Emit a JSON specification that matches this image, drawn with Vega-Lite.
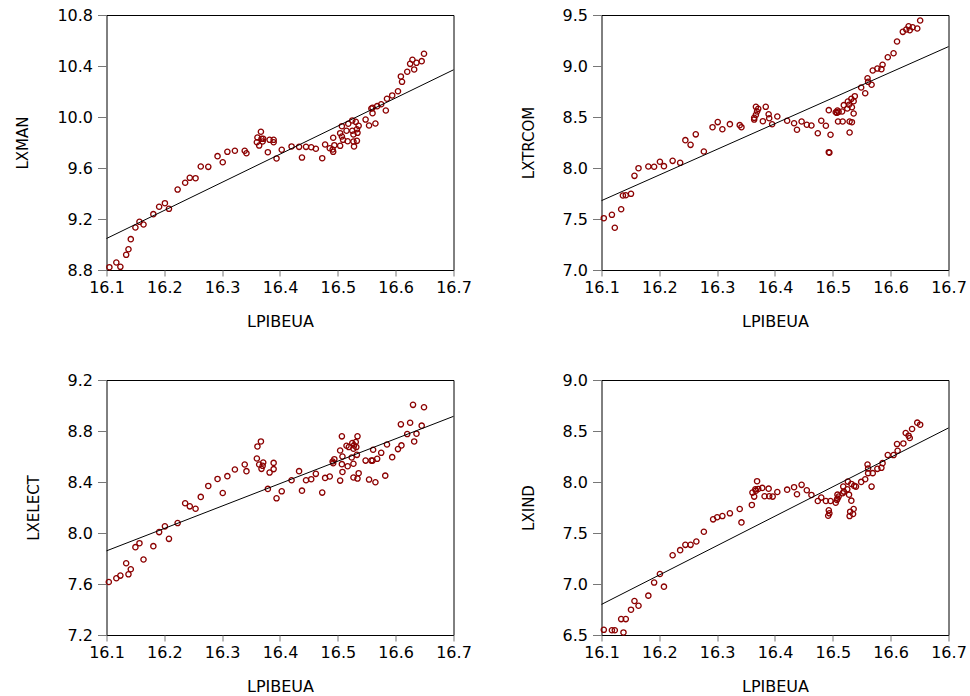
{
  "$schema": "https://vega.github.io/schema/vega-lite/v6.json",
  "background": "white",
  "padding": {"left": 14.5, "top": 6, "right": 5, "bottom": 2},
  "columns": 2,
  "bounds": "flush",
  "spacing": {"row": 110, "column": 148},
  "datasets": {
    "man": [
      {"x":16.105,"y":8.822},{"x":16.117,"y":8.859},{"x":16.124,"y":8.825},{"x":16.134,"y":8.919},{"x":16.138,"y":8.963},{"x":16.142,"y":9.042},{"x":16.150,"y":9.133},{"x":16.157,"y":9.178},{"x":16.164,"y":9.157},{"x":16.181,"y":9.238},{"x":16.191,"y":9.296},{"x":16.201,"y":9.324},{"x":16.208,"y":9.280},{"x":16.223,"y":9.431},{"x":16.236,"y":9.484},{"x":16.244,"y":9.523},{"x":16.254,"y":9.520},{"x":16.263,"y":9.612},{"x":16.276,"y":9.609},{"x":16.292,"y":9.693},{"x":16.301,"y":9.645},{"x":16.309,"y":9.727},{"x":16.322,"y":9.735},{"x":16.339,"y":9.735},{"x":16.342,"y":9.716},{"x":16.361,"y":9.839},{"x":16.360,"y":9.802},{"x":16.364,"y":9.776},{"x":16.367,"y":9.884},{"x":16.368,"y":9.829},{"x":16.370,"y":9.808},{"x":16.371,"y":9.829},{"x":16.379,"y":9.724},{"x":16.382,"y":9.821},{"x":16.389,"y":9.821},{"x":16.389,"y":9.802},{"x":16.394,"y":9.675},{"x":16.403,"y":9.743},{"x":16.420,"y":9.769},{"x":16.433,"y":9.766},{"x":16.438,"y":9.682},{"x":16.445,"y":9.766},{"x":16.454,"y":9.763},{"x":16.462,"y":9.751},{"x":16.473,"y":9.677},{"x":16.478,"y":9.784},{"x":16.486,"y":9.755},{"x":16.492,"y":9.727},{"x":16.491,"y":9.745},{"x":16.494,"y":9.779},{"x":16.504,"y":9.774},{"x":16.492,"y":9.837},{"x":16.504,"y":9.873},{"x":16.507,"y":9.847},{"x":16.509,"y":9.821},{"x":16.507,"y":9.928},{"x":16.515,"y":9.892},{"x":16.517,"y":9.810},{"x":16.518,"y":9.947},{"x":16.525,"y":9.973},{"x":16.525,"y":9.892},{"x":16.527,"y":9.863},{"x":16.527,"y":9.808},{"x":16.528,"y":9.769},{"x":16.531,"y":9.962},{"x":16.533,"y":9.904},{"x":16.534,"y":9.876},{"x":16.533,"y":9.813},{"x":16.536,"y":9.931},{"x":16.548,"y":9.980},{"x":16.554,"y":9.933},{"x":16.560,"y":10.030},{"x":16.558,"y":10.067},{"x":16.565,"y":9.949},{"x":16.560,"y":10.072},{"x":16.568,"y":10.085},{"x":16.575,"y":10.100},{"x":16.583,"y":10.051},{"x":16.585,"y":10.143},{"x":16.594,"y":10.169},{"x":16.604,"y":10.202},{"x":16.611,"y":10.276},{"x":16.609,"y":10.318},{"x":16.620,"y":10.355},{"x":16.632,"y":10.373},{"x":16.625,"y":10.417},{"x":16.629,"y":10.449},{"x":16.636,"y":10.425},{"x":16.645,"y":10.438},{"x":16.649,"y":10.496}
    ],
    "trcom": [
      {"x":16.104,"y":7.508},{"x":16.118,"y":7.541},{"x":16.123,"y":7.414},{"x":16.134,"y":7.596},{"x":16.137,"y":7.730},{"x":16.142,"y":7.733},{"x":16.151,"y":7.747},{"x":16.157,"y":7.923},{"x":16.164,"y":7.998},{"x":16.181,"y":8.015},{"x":16.191,"y":8.012},{"x":16.201,"y":8.061},{"x":16.208,"y":8.018},{"x":16.223,"y":8.070},{"x":16.236,"y":8.051},{"x":16.245,"y":8.273},{"x":16.254,"y":8.227},{"x":16.263,"y":8.33},{"x":16.277,"y":8.162},{"x":16.292,"y":8.40},{"x":16.301,"y":8.45},{"x":16.309,"y":8.38},{"x":16.322,"y":8.43},{"x":16.339,"y":8.42},{"x":16.342,"y":8.40},
      {"x":16.364,"y":8.475},{"x":16.364,"y":8.492},{"x":16.367,"y":8.521},{"x":16.369,"y":8.554},{"x":16.367,"y":8.600},{"x":16.371,"y":8.580},{"x":16.384,"y":8.600},{"x":16.389,"y":8.527},{"x":16.390,"y":8.488},{"x":16.379,"y":8.459},{"x":16.395,"y":8.429},{"x":16.404,"y":8.505},{"x":16.421,"y":8.463},{"x":16.433,"y":8.439},{"x":16.438,"y":8.375},{"x":16.446,"y":8.456},{"x":16.455,"y":8.424},{"x":16.463,"y":8.417},{"x":16.474,"y":8.341},{"x":16.480,"y":8.463},{"x":16.488,"y":8.414},{"x":16.496,"y":8.326},{"x":16.493,"y":8.155},{"x":16.494,"y":8.150},{"x":16.493,"y":8.567},{"x":16.505,"y":8.547},{"x":16.507,"y":8.541},{"x":16.508,"y":8.564},{"x":16.510,"y":8.551},{"x":16.509,"y":8.456},{"x":16.517,"y":8.456},{"x":16.516,"y":8.554},{"x":16.519,"y":8.616},{"x":16.526,"y":8.652},{"x":16.525,"y":8.583},{"x":16.528,"y":8.620},{"x":16.529,"y":8.456},{"x":16.533,"y":8.449},{"x":16.529,"y":8.348},{"x":16.532,"y":8.678},{"x":16.536,"y":8.655},{"x":16.533,"y":8.596},{"x":16.536,"y":8.534},{"x":16.538,"y":8.704},{"x":16.549,"y":8.789},{"x":16.556,"y":8.733},{"x":16.560,"y":8.880},{"x":16.561,"y":8.845},{"x":16.567,"y":8.816},{"x":16.569,"y":8.956},{"x":16.577,"y":8.975},{"x":16.584,"y":8.969},{"x":16.586,"y":9.012},{"x":16.595,"y":9.086},{"x":16.605,"y":9.125},{"x":16.611,"y":9.240},{"x":16.621,"y":9.335},{"x":16.627,"y":9.358},{"x":16.631,"y":9.390},{"x":16.633,"y":9.351},{"x":16.638,"y":9.380},{"x":16.646,"y":9.368},{"x":16.651,"y":9.446}
    ],
    "elect": [
      {"x":16.104,"y":7.616},{"x":16.117,"y":7.645},{"x":16.124,"y":7.666},{"x":16.134,"y":7.763},{"x":16.138,"y":7.676},{"x":16.142,"y":7.716},{"x":16.150,"y":7.889},{"x":16.157,"y":7.920},{"x":16.164,"y":7.792},{"x":16.181,"y":7.897},{"x":16.191,"y":8.007},{"x":16.201,"y":8.052},{"x":16.208,"y":7.954},{"x":16.223,"y":8.078},{"x":16.236,"y":8.233},{"x":16.244,"y":8.209},{"x":16.254,"y":8.190},{"x":16.263,"y":8.283},{"x":16.276,"y":8.369},{"x":16.292,"y":8.424},{"x":16.301,"y":8.314},{"x":16.309,"y":8.446},{"x":16.322,"y":8.498},{"x":16.339,"y":8.537},{"x":16.342,"y":8.485},{"x":16.361,"y":8.679},{"x":16.360,"y":8.584},{"x":16.364,"y":8.537},{"x":16.367,"y":8.718},{"x":16.368,"y":8.503},{"x":16.370,"y":8.527},{"x":16.371,"y":8.553},{"x":16.379,"y":8.346},{"x":16.382,"y":8.474},
      {"x":16.389,"y":8.550},{"x":16.389,"y":8.501},{"x":16.394,"y":8.272},{"x":16.403,"y":8.327},{"x":16.420,"y":8.414},{"x":16.433,"y":8.485},{"x":16.438,"y":8.332},{"x":16.445,"y":8.414},{"x":16.454,"y":8.422},{"x":16.462,"y":8.464},{"x":16.473,"y":8.317},{"x":16.478,"y":8.432},{"x":16.486,"y":8.443},{"x":16.492,"y":8.548},{"x":16.494,"y":8.579},{"x":16.491,"y":8.561},{"x":16.504,"y":8.647},{"x":16.507,"y":8.758},{"x":16.508,"y":8.600},{"x":16.507,"y":8.540},{"x":16.508,"y":8.479},{"x":16.504,"y":8.411},{"x":16.515,"y":8.684},{"x":16.519,"y":8.674},{"x":16.517,"y":8.524},{"x":16.524,"y":8.592},{"x":16.525,"y":8.705},{"x":16.527,"y":8.661},{"x":16.527,"y":8.543},{"x":16.527,"y":8.435},{"x":16.528,"y":8.687},{"x":16.531,"y":8.713},{"x":16.532,"y":8.674},{"x":16.533,"y":8.613},{"x":16.534,"y":8.758},{"x":16.534,"y":8.427},{"x":16.536,"y":8.469},{"x":16.548,"y":8.568},{"x":16.554,"y":8.419},{"x":16.558,"y":8.568},{"x":16.561,"y":8.653},{"x":16.560,"y":8.568},{"x":16.565,"y":8.398},{"x":16.568,"y":8.582},{"x":16.575,"y":8.629},{"x":16.582,"y":8.450},{"x":16.585,"y":8.694},{"x":16.594,"y":8.595},{"x":16.604,"y":8.658},{"x":16.610,"y":8.687},{"x":16.609,"y":8.852},{"x":16.620,"y":8.776},{"x":16.625,"y":8.865},{"x":16.632,"y":8.718},{"x":16.630,"y":9.005},{"x":16.636,"y":8.779},{"x":16.645,"y":8.842},{"x":16.649,"y":8.986}
    ],
    "ind": [
      {"x":16.104,"y":6.551},{"x":16.118,"y":6.547},{"x":16.123,"y":6.547},{"x":16.138,"y":6.525},{"x":16.134,"y":6.656},{"x":16.142,"y":6.656},{"x":16.151,"y":6.748},{"x":16.157,"y":6.833},{"x":16.164,"y":6.787},{"x":16.181,"y":6.886},{"x":16.191,"y":7.014},{"x":16.201,"y":7.098},{"x":16.208,"y":6.974},{"x":16.223,"y":7.282},{"x":16.236,"y":7.332},{"x":16.245,"y":7.384},{"x":16.254,"y":7.384},{"x":16.264,"y":7.417},{"x":16.277,"y":7.512},{"x":16.293,"y":7.634},{"x":16.300,"y":7.654},{"x":16.309,"y":7.666},{"x":16.322,"y":7.693},{"x":16.339,"y":7.735},{"x":16.342,"y":7.604},{"x":16.360,"y":7.775},{"x":16.361,"y":7.896},{"x":16.364,"y":7.857},{"x":16.366,"y":7.929},{"x":16.367,"y":7.915},{"x":16.369,"y":8.008},{"x":16.371,"y":7.932},{"x":16.378,"y":7.942},{"x":16.382,"y":7.860},{"x":16.389,"y":7.935},{"x":16.390,"y":7.860},{"x":16.396,"y":7.857},
      {"x":16.404,"y":7.902},{"x":16.421,"y":7.925},{"x":16.433,"y":7.949},{"x":16.438,"y":7.880},{"x":16.446,"y":7.972},{"x":16.455,"y":7.919},{"x":16.463,"y":7.873},{"x":16.474,"y":7.814},{"x":16.480,"y":7.847},{"x":16.488,"y":7.814},{"x":16.493,"y":7.722},{"x":16.494,"y":7.693},{"x":16.492,"y":7.669},{"x":16.496,"y":7.814},{"x":16.505,"y":7.797},{"x":16.507,"y":7.824},{"x":16.508,"y":7.837},{"x":16.510,"y":7.857},{"x":16.508,"y":7.876},{"x":16.517,"y":7.890},{"x":16.518,"y":7.955},{"x":16.519,"y":7.906},{"x":16.525,"y":7.929},{"x":16.526,"y":8.004},{"x":16.528,"y":7.876},{"x":16.529,"y":7.666},{"x":16.530,"y":7.709},{"x":16.535,"y":7.686},{"x":16.536,"y":7.735},{"x":16.532,"y":7.817},{"x":16.532,"y":7.981},{"x":16.537,"y":7.962},{"x":16.540,"y":7.955},{"x":16.549,"y":8.001},{"x":16.556,"y":8.027},{"x":16.560,"y":8.171},{"x":16.561,"y":8.132},{"x":16.561,"y":8.087},{"x":16.567,"y":7.955},{"x":16.569,"y":8.087},{"x":16.577,"y":8.129},{"x":16.584,"y":8.139},{"x":16.586,"y":8.185},{"x":16.595,"y":8.264},{"x":16.605,"y":8.264},{"x":16.612,"y":8.306},{"x":16.611,"y":8.372},{"x":16.622,"y":8.378},{"x":16.626,"y":8.480},{"x":16.631,"y":8.454},{"x":16.633,"y":8.431},{"x":16.637,"y":8.520},{"x":16.646,"y":8.582},{"x":16.651,"y":8.562}
    ],
    "man_fit": [{"x":16.1,"y":9.047},{"x":16.7,"y":10.37}],
    "trcom_fit": [{"x":16.1,"y":7.68},{"x":16.7,"y":9.19}],
    "elect_fit": [{"x":16.1,"y":7.86},{"x":16.7,"y":8.915}],
    "ind_fit": [{"x":16.1,"y":6.80},{"x":16.7,"y":8.53}]
  },
  "concat": [
    {
      "width": 347, "height": 255,
      "layer": [
        {"data": {"name": "man"}, "mark": {"type": "point", "shape": "circle", "filled": false, "size": 28, "strokeWidth": 1.3, "color": "#8b0000", "opacity": 1},
         "encoding": {
           "x": {"field": "x", "type": "quantitative", "title": "LPIBEUA", "scale": {"domain": [16.1, 16.7], "nice": false, "zero": false}, "axis": {"values": [16.1,16.2,16.3,16.4,16.5,16.6,16.7], "format": ".1f"}},
           "y": {"field": "y", "type": "quantitative", "title": "LXMAN", "scale": {"domain": [8.8, 10.8], "nice": false, "zero": false}, "axis": {"values": [8.8,9.2,9.6,10.0,10.4,10.8], "format": ".1f"}}
         }},
        {"data": {"name": "man_fit"}, "mark": {"type": "line", "color": "#000", "strokeWidth": 1},
         "encoding": {"x": {"field": "x", "type": "quantitative"}, "y": {"field": "y", "type": "quantitative"}}}
      ]
    },
    {
      "width": 347, "height": 255,
      "layer": [
        {"data": {"name": "trcom"}, "mark": {"type": "point", "shape": "circle", "filled": false, "size": 28, "strokeWidth": 1.3, "color": "#8b0000", "opacity": 1},
         "encoding": {
           "x": {"field": "x", "type": "quantitative", "title": "LPIBEUA", "scale": {"domain": [16.1, 16.7], "nice": false, "zero": false}, "axis": {"values": [16.1,16.2,16.3,16.4,16.5,16.6,16.7], "format": ".1f"}},
           "y": {"field": "y", "type": "quantitative", "title": "LXTRCOM", "scale": {"domain": [7.0, 9.5], "nice": false, "zero": false}, "axis": {"values": [7.0,7.5,8.0,8.5,9.0,9.5], "format": ".1f"}}
         }},
        {"data": {"name": "trcom_fit"}, "mark": {"type": "line", "color": "#000", "strokeWidth": 1},
         "encoding": {"x": {"field": "x", "type": "quantitative"}, "y": {"field": "y", "type": "quantitative"}}}
      ]
    },
    {
      "width": 347, "height": 255,
      "layer": [
        {"data": {"name": "elect"}, "mark": {"type": "point", "shape": "circle", "filled": false, "size": 28, "strokeWidth": 1.3, "color": "#8b0000", "opacity": 1},
         "encoding": {
           "x": {"field": "x", "type": "quantitative", "title": "LPIBEUA", "scale": {"domain": [16.1, 16.7], "nice": false, "zero": false}, "axis": {"values": [16.1,16.2,16.3,16.4,16.5,16.6,16.7], "format": ".1f"}},
           "y": {"field": "y", "type": "quantitative", "title": "LXELECT", "scale": {"domain": [7.2, 9.2], "nice": false, "zero": false}, "axis": {"values": [7.2,7.6,8.0,8.4,8.8,9.2], "format": ".1f"}}
         }},
        {"data": {"name": "elect_fit"}, "mark": {"type": "line", "color": "#000", "strokeWidth": 1},
         "encoding": {"x": {"field": "x", "type": "quantitative"}, "y": {"field": "y", "type": "quantitative"}}}
      ]
    },
    {
      "width": 347, "height": 255,
      "layer": [
        {"data": {"name": "ind"}, "mark": {"type": "point", "shape": "circle", "filled": false, "size": 28, "strokeWidth": 1.3, "color": "#8b0000", "opacity": 1},
         "encoding": {
           "x": {"field": "x", "type": "quantitative", "title": "LPIBEUA", "scale": {"domain": [16.1, 16.7], "nice": false, "zero": false}, "axis": {"values": [16.1,16.2,16.3,16.4,16.5,16.6,16.7], "format": ".1f"}},
           "y": {"field": "y", "type": "quantitative", "title": "LXIND", "scale": {"domain": [6.5, 9.0], "nice": false, "zero": false}, "axis": {"values": [6.5,7.0,7.5,8.0,8.5,9.0], "format": ".1f"}}
         }},
        {"data": {"name": "ind_fit"}, "mark": {"type": "line", "color": "#000", "strokeWidth": 1},
         "encoding": {"x": {"field": "x", "type": "quantitative"}, "y": {"field": "y", "type": "quantitative"}}}
      ]
    }
  ],
  "config": {
    "font": "DejaVu Sans",
    "view": {"stroke": "#000", "strokeWidth": 1},
    "axis": {"grid": false, "domain": false, "tickColor": "#777", "tickWidth": 1, "labelColor": "#000", "titleColor": "#000", "labelFont": "DejaVu Sans", "labelFontSize": 16, "titleFont": "DejaVu Sans", "titleFontSize": 16, "titleFontWeight": "normal", "labelFlush": false, "labelOverlap": false},
    "axisX": {"tickSize": 6, "labelPadding": 3, "titlePadding": 18},
    "axisY": {"tickSize": 9, "labelPadding": 5, "titlePadding": 26, "titleFontSize": 15}
  }
}
